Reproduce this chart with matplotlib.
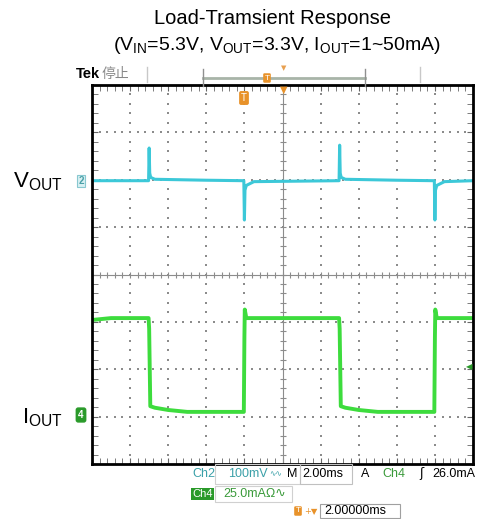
import matplotlib.pyplot as plt
from matplotlib.lines import Line2D
from matplotlib.patches import Rectangle
import numpy as np

plt.rcParams['font.family'] = ['Liberation Sans', 'Noto Sans CJK SC', 'DejaVu Sans']

# 数据: 时间 (ms), Vout 偏差 (mV), Iout (mA)
vout_t = [0, 2.97, 3.0, 3.03, 3.08, 3.3, 6.0, 7.97, 8.0, 8.03, 8.1, 8.5,
          12.97, 13.0, 13.03, 13.08, 13.3, 16.0, 17.97, 18.0, 18.03, 18.1, 18.5, 20]
vout_mv = [0, 0, 69, 16, 7, 3, 1, 0, -83, -20, -10, -2,
           0, 75, 16, 7, 3, 1, 0, -83, -20, -10, -2, 0]

iout_t = [0, 1.0, 2.97, 3.0, 3.06, 3.3, 4.0, 5.0, 7.97, 8.0, 8.02, 8.1, 9.0,
          12.97, 13.0, 13.06, 13.3, 14.0, 15.0, 17.97, 18.0, 18.02, 18.1, 19.0, 20]
iout_ma = [49.5, 50.5, 50.5, 45, 4, 3.2, 2.0, 1.0, 1.0, 40, 55, 50.5, 50.5,
           50.5, 45, 4, 3.2, 2.0, 1.0, 1.0, 40, 55, 50.5, 50.5, 50.5]

vscale, voff = 100.0, 1.98    # mV/div, 位置(div)
iscale, ioff = 25.0, -2.94    # mA/div

W, H = 481, 519
def fx(x): return x / W
def fy(y): return 1 - y / H

fig = plt.figure(figsize=(4.81, 5.19), dpi=100)
ax = fig.add_axes([fx(92), fy(464), (473 - 92) / W, (464 - 85) / H])
ax.set_xlim(0, 20)
ax.set_ylim(-4, 4)

# 网格 (点线)
grid_c = '#8c8c8c'
for gx in np.arange(2, 20, 2):
    if gx == 10:
        continue
    ys = np.arange(-4, 4.01, 0.2)
    ax.plot([gx] * len(ys), ys, ls='none', marker='s', ms=1.6, color=grid_c, mew=0)
for gy in [-3, -2, -1, 1, 2, 3]:
    xs = np.arange(0, 20.01, 0.4)
    ax.plot(xs, [gy] * len(xs), ls='none', marker='s', ms=1.6, color=grid_c, mew=0)
# 中心十字
ax.axhline(0, color=grid_c, lw=0.8)
ax.axvline(10, color=grid_c, lw=0.8)
xs = np.arange(0, 20.01, 0.4)
ax.plot(xs, [0] * len(xs), ls='none', marker='|', ms=5, color=grid_c, mew=0.8)
ys = np.arange(-4, 4.01, 0.2)
ax.plot([10] * len(ys), ys, ls='none', marker='_', ms=5, color=grid_c, mew=0.8)

# 波形
ax.plot(vout_t, [voff + v / vscale for v in vout_mv], color='#3cc8d8', lw=2.2)
ax.plot(iout_t, [ioff + i / iscale for i in iout_ma], color='#3ddc3d', lw=2.8)

ax.set_xticks(np.arange(0, 20.01, 2))
ax.set_xticks(np.arange(0, 20.01, 0.4), minor=True)
ax.set_yticks(np.arange(-4, 4.01, 1))
ax.set_yticks(np.arange(-4, 4.01, 0.2), minor=True)
ax.tick_params(which='both', direction='in', top=True, right=True, length=4,
               color='#666666', labelbottom=False, labelleft=False)
for s in ax.spines.values():
    s.set_linewidth(2)
    s.set_color('black')

# 标题
fig.text(fx(273), fy(18), 'Load-Tramsient Response', ha='center', va='center', fontsize=14.5)
fig.text(fx(277), fy(45),
         r'(V$\mathregular{_{IN}}$=5.3V, V$\mathregular{_{OUT}}$=3.3V, I$\mathregular{_{OUT}}$=1~50mA)',
         ha='center', va='center', fontsize=14)

# 左侧标签
fig.text(fx(13), fy(182), r'V$\mathregular{_{OUT}}$', ha='left', va='center', fontsize=16)
fig.text(fx(22), fy(418), r'I$\mathregular{_{OUT}}$', ha='left', va='center', fontsize=16)
fig.text(fx(81), fy(181), '2', ha='center', va='center', fontsize=7, color='#4aa0a8',
         fontweight='bold',
         bbox=dict(boxstyle='square,pad=0.15', fc='#d8f0f2', ec='#88c8d0', lw=0.8))
fig.text(fx(81), fy(415), '4', ha='center', va='center', fontsize=7, color='white',
         fontweight='bold',
         bbox=dict(boxstyle='round,pad=0.2', fc='#2a9a2a', ec='#2a9a2a'))

# 顶栏
fig.text(fx(76), fy(74), 'Tek', ha='left', va='center', fontsize=10.5, fontweight='bold')
fig.text(fx(102), fy(74), '停止', ha='left', va='center', fontsize=10, color='#888888',
         family=['Noto Sans CJK SC', 'DejaVu Sans'])
for sx in [147, 420]:
    fig.add_artist(Line2D([fx(sx)] * 2, [fy(67), fy(82)], color='#c8c8c8', lw=1))
fig.add_artist(Line2D([fx(203), fx(365)], [fy(78), fy(78)], color='#a8b4a8', lw=2))
for sx in [203, 365]:
    fig.add_artist(Line2D([fx(sx)] * 2, [fy(69), fy(86)], color='#909090', lw=1))
fig.text(fx(267), fy(78), 'T', ha='center', va='center', fontsize=6, color='white',
         bbox=dict(boxstyle='round,pad=0.15', fc='#e8922a', ec='none'))
fig.text(fx(284), fy(68), '▼', ha='center', va='center', fontsize=5, color='#e8a050',
         family=['DejaVu Sans'])

# 屏幕内标记
fig.text(fx(284), fy(90), '▼', ha='center', va='center', fontsize=7, color='#e8922a',
         family=['DejaVu Sans'])
fig.text(fx(244), fy(98), 'T', ha='center', va='center', fontsize=7, color='white',
         bbox=dict(boxstyle='round,pad=0.2', fc='#e8922a', ec='none'))
fig.text(fx(469), fy(367), '◀', ha='center', va='center', fontsize=6, color='#2a9a2a',
         family=['DejaVu Sans'])

# 底部读数
teal = '#3aa0a8'
green = '#3a9a3a'
fs = 9
fig.add_artist(Rectangle((fx(215), fy(484)), (300 - 215) / W, (484 - 464) / H,
                         fill=False, ec='#d0d0d0', lw=0.8))
fig.add_artist(Rectangle((fx(300), fy(484)), (352 - 300) / W, (484 - 464) / H,
                         fill=False, ec='#c0c0c0', lw=0.8))
fig.add_artist(Rectangle((fx(215), fy(502)), (292 - 215) / W, (502 - 486) / H,
                         fill=False, ec='#d0d0d0', lw=0.8))
fig.add_artist(Rectangle((fx(320), fy(518)), (400 - 320) / W, (518 - 504) / H,
                         fill=False, ec='#a0a0a0', lw=0.8))
fig.text(fx(192), fy(474), 'Ch2', ha='left', va='center', fontsize=fs, color=teal)
fig.text(fx(228), fy(474), '100mV', ha='left', va='center', fontsize=fs, color=teal)
fig.text(fx(269), fy(474), '∿∿', ha='left', va='center', fontsize=5.5, color=teal,
         family=['DejaVu Sans'])
fig.text(fx(287), fy(474), 'M', ha='left', va='center', fontsize=fs)
fig.text(fx(302), fy(474), '2.00ms', ha='left', va='center', fontsize=fs)
fig.text(fx(361), fy(474), 'A', ha='left', va='center', fontsize=fs)
fig.text(fx(382), fy(474), 'Ch4', ha='left', va='center', fontsize=fs, color=green)
fig.text(fx(419), fy(474), 'ʃ', ha='left', va='center', fontsize=fs,
         family=['DejaVu Sans'])
fig.text(fx(432), fy(474), '26.0mA', ha='left', va='center', fontsize=fs)

fig.text(fx(192), fy(494), 'Ch4', ha='left', va='center', fontsize=8, color='white',
         bbox=dict(boxstyle='square,pad=0.12', fc='#2a9a2a', ec='none'))
fig.text(fx(223), fy(494), '25.0mAΩ∿', ha='left', va='center', fontsize=fs, color=green,
         family=['Liberation Sans', 'DejaVu Sans'])

fig.text(fx(298), fy(511), 'T', ha='center', va='center', fontsize=6, color='white',
         bbox=dict(boxstyle='round,pad=0.15', fc='#e8922a', ec='none'))
fig.text(fx(304), fy(511), '+▼', ha='left', va='center', fontsize=6, color='#e8922a',
         family=['DejaVu Sans'])
fig.text(fx(324), fy(511), '2.00000ms', ha='left', va='center', fontsize=fs)

fig.savefig('out.png', dpi=100)
